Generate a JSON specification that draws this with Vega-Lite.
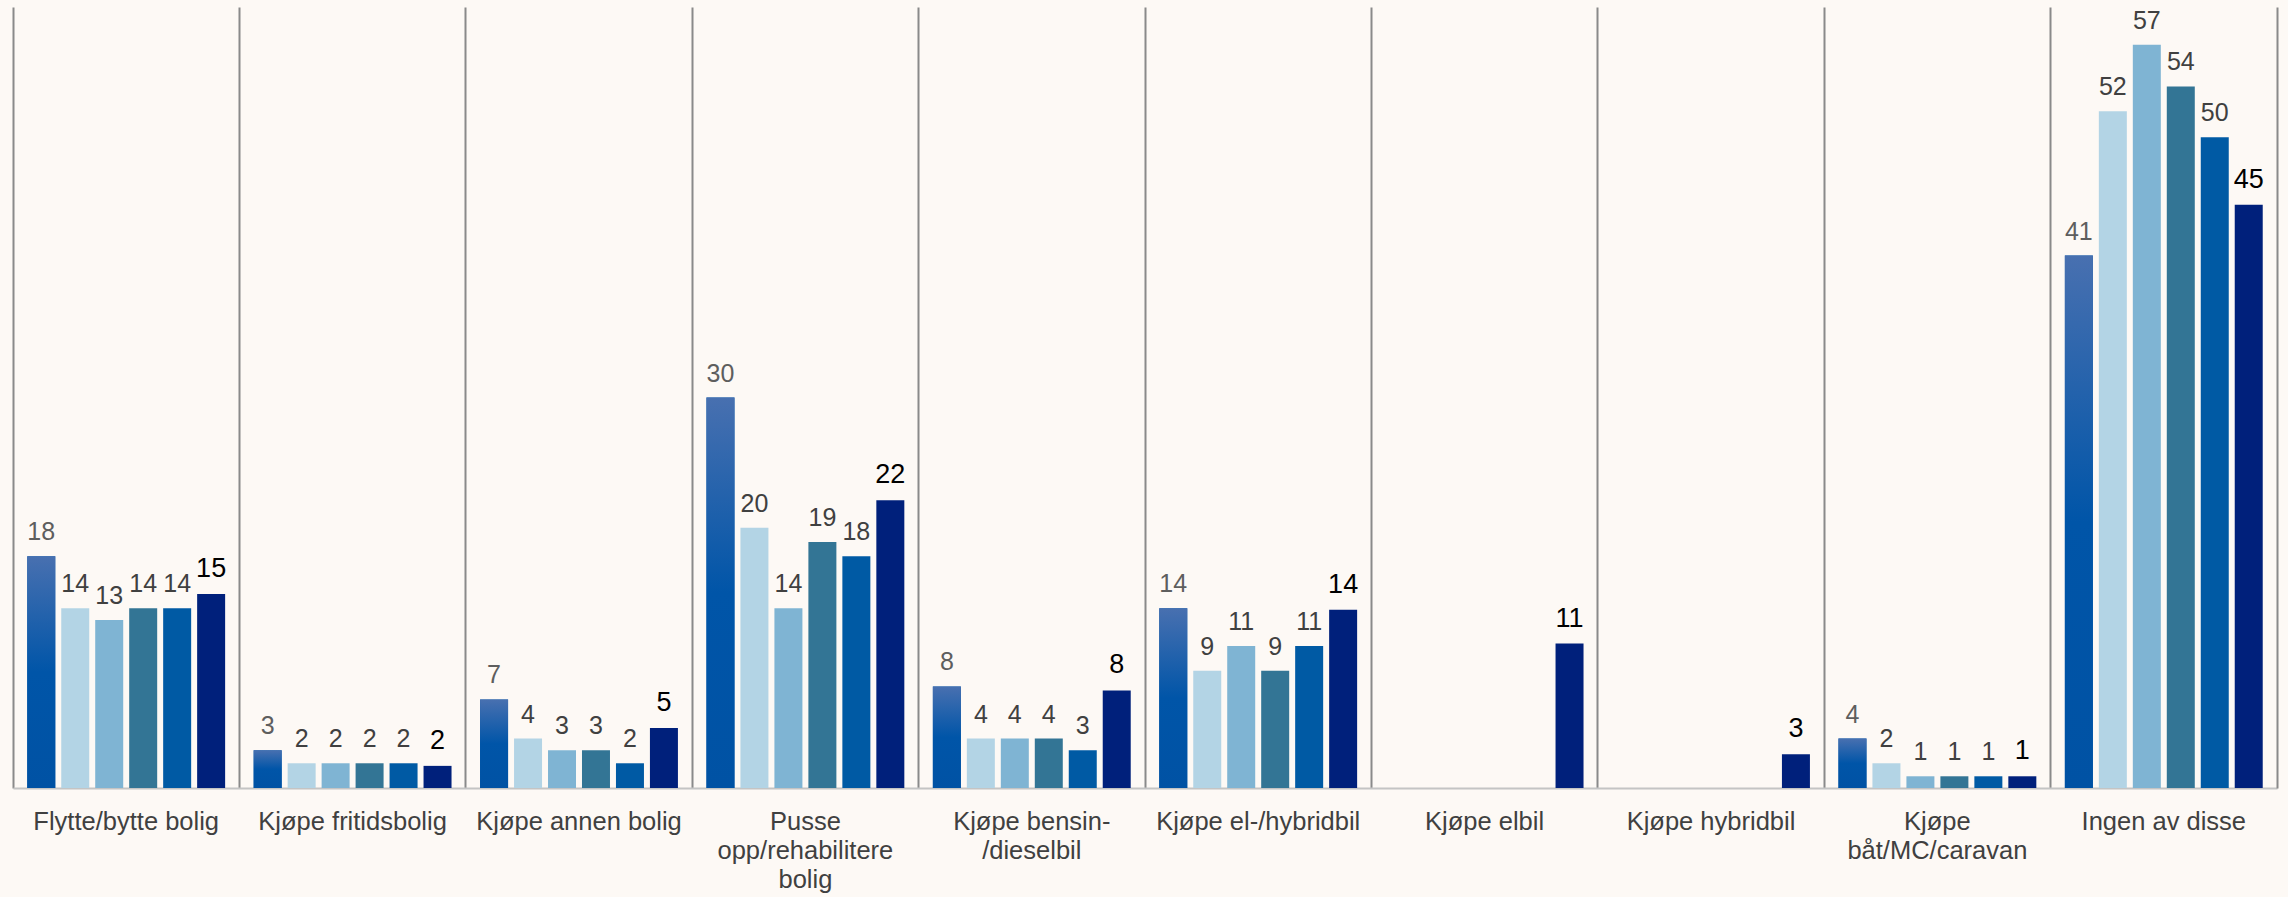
{
  "$schema": "https://vega.github.io/schema/vega-lite/v6.json",
  "width": 2264,
  "height": 781,
  "autosize": {"type": "none"},
  "padding": {"left": 13, "top": 7, "right": 11, "bottom": 109},
  "background": "#fdf9f5",
  "config": {
    "view": {"stroke": null},
    "font": "Liberation Sans"
  },
  "data": {
    "values": [
      {"kategori": "Flytte/bytte bolig", "serie": "Serie 1", "verdi": 17.8},
      {"kategori": "Flytte/bytte bolig", "serie": "Serie 2", "verdi": 13.8},
      {"kategori": "Flytte/bytte bolig", "serie": "Serie 3", "verdi": 12.9},
      {"kategori": "Flytte/bytte bolig", "serie": "Serie 4", "verdi": 13.8},
      {"kategori": "Flytte/bytte bolig", "serie": "Serie 5", "verdi": 13.8},
      {"kategori": "Flytte/bytte bolig", "serie": "Serie 6", "verdi": 14.9},
      {"kategori": "Kjøpe fritidsbolig", "serie": "Serie 1", "verdi": 2.9},
      {"kategori": "Kjøpe fritidsbolig", "serie": "Serie 2", "verdi": 1.9},
      {"kategori": "Kjøpe fritidsbolig", "serie": "Serie 3", "verdi": 1.9},
      {"kategori": "Kjøpe fritidsbolig", "serie": "Serie 4", "verdi": 1.9},
      {"kategori": "Kjøpe fritidsbolig", "serie": "Serie 5", "verdi": 1.9},
      {"kategori": "Kjøpe fritidsbolig", "serie": "Serie 6", "verdi": 1.7},
      {"kategori": "Kjøpe annen bolig", "serie": "Serie 1", "verdi": 6.8},
      {"kategori": "Kjøpe annen bolig", "serie": "Serie 2", "verdi": 3.8},
      {"kategori": "Kjøpe annen bolig", "serie": "Serie 3", "verdi": 2.9},
      {"kategori": "Kjøpe annen bolig", "serie": "Serie 4", "verdi": 2.9},
      {"kategori": "Kjøpe annen bolig", "serie": "Serie 5", "verdi": 1.9},
      {"kategori": "Kjøpe annen bolig", "serie": "Serie 6", "verdi": 4.6},
      {"kategori": "Pusse opp/rehabilitere bolig", "serie": "Serie 1", "verdi": 30.0},
      {"kategori": "Pusse opp/rehabilitere bolig", "serie": "Serie 2", "verdi": 20.0},
      {"kategori": "Pusse opp/rehabilitere bolig", "serie": "Serie 3", "verdi": 13.8},
      {"kategori": "Pusse opp/rehabilitere bolig", "serie": "Serie 4", "verdi": 18.9},
      {"kategori": "Pusse opp/rehabilitere bolig", "serie": "Serie 5", "verdi": 17.8},
      {"kategori": "Pusse opp/rehabilitere bolig", "serie": "Serie 6", "verdi": 22.1},
      {"kategori": "Kjøpe bensin-/dieselbil", "serie": "Serie 1", "verdi": 7.8},
      {"kategori": "Kjøpe bensin-/dieselbil", "serie": "Serie 2", "verdi": 3.8},
      {"kategori": "Kjøpe bensin-/dieselbil", "serie": "Serie 3", "verdi": 3.8},
      {"kategori": "Kjøpe bensin-/dieselbil", "serie": "Serie 4", "verdi": 3.8},
      {"kategori": "Kjøpe bensin-/dieselbil", "serie": "Serie 5", "verdi": 2.9},
      {"kategori": "Kjøpe bensin-/dieselbil", "serie": "Serie 6", "verdi": 7.5},
      {"kategori": "Kjøpe el-/hybridbil", "serie": "Serie 1", "verdi": 13.8},
      {"kategori": "Kjøpe el-/hybridbil", "serie": "Serie 2", "verdi": 9.0},
      {"kategori": "Kjøpe el-/hybridbil", "serie": "Serie 3", "verdi": 10.9},
      {"kategori": "Kjøpe el-/hybridbil", "serie": "Serie 4", "verdi": 9.0},
      {"kategori": "Kjøpe el-/hybridbil", "serie": "Serie 5", "verdi": 10.9},
      {"kategori": "Kjøpe el-/hybridbil", "serie": "Serie 6", "verdi": 13.7},
      {"kategori": "Kjøpe elbil", "serie": "Serie 6", "verdi": 11.1},
      {"kategori": "Kjøpe hybridbil", "serie": "Serie 6", "verdi": 2.6},
      {"kategori": "Kjøpe båt/MC/caravan", "serie": "Serie 1", "verdi": 3.8},
      {"kategori": "Kjøpe båt/MC/caravan", "serie": "Serie 2", "verdi": 1.9},
      {"kategori": "Kjøpe båt/MC/caravan", "serie": "Serie 3", "verdi": 0.9},
      {"kategori": "Kjøpe båt/MC/caravan", "serie": "Serie 4", "verdi": 0.9},
      {"kategori": "Kjøpe båt/MC/caravan", "serie": "Serie 5", "verdi": 0.9},
      {"kategori": "Kjøpe båt/MC/caravan", "serie": "Serie 6", "verdi": 0.9},
      {"kategori": "Ingen av disse", "serie": "Serie 1", "verdi": 40.9},
      {"kategori": "Ingen av disse", "serie": "Serie 2", "verdi": 52.0},
      {"kategori": "Ingen av disse", "serie": "Serie 3", "verdi": 57.1},
      {"kategori": "Ingen av disse", "serie": "Serie 4", "verdi": 53.9},
      {"kategori": "Ingen av disse", "serie": "Serie 5", "verdi": 50.0},
      {"kategori": "Ingen av disse", "serie": "Serie 6", "verdi": 44.8}
    ]
  },
  "encoding": {
    "x": {
      "field": "kategori",
      "type": "nominal",
      "sort": null,
      "scale": {"paddingInner": 0, "paddingOuter": 0},
      "axis": {
        "title": null,
        "ticks": false,
        "domain": true,
        "domainColor": "#c4c4c4",
        "domainWidth": 2,
        "grid": true,
        "gridColor": "#8a8a8a",
        "gridWidth": 2,
        "bandPosition": 0,
        "labelAngle": 0,
        "labelFont": "Liberation Sans",
        "labelFontSize": 25.5,
        "labelColor": "#404040",
        "labelPadding": 21,
        "labelLimit": 400,
        "labelLineHeight": 29,
        "labelBaseline": "top",
        "labelExpr": "datum.label == 'Pusse opp/rehabilitere bolig' ? ['Pusse', 'opp/rehabilitere', 'bolig'] : datum.label == 'Kjøpe bensin-/dieselbil' ? ['Kjøpe bensin-', '/dieselbil'] : datum.label == 'Kjøpe båt/MC/caravan' ? ['Kjøpe', 'båt/MC/caravan'] : datum.label"
      }
    },
    "xOffset": {
      "field": "serie",
      "type": "nominal",
      "scale": {
        "domain": ["Serie 1", "Serie 2", "Serie 3", "Serie 4", "Serie 5", "Serie 6"],
        "paddingInner": 0.176,
        "paddingOuter": 0.42
      }
    },
    "y": {
      "field": "verdi",
      "type": "quantitative",
      "scale": {"domain": [0, 60], "nice": false},
      "axis": {
        "orient": "right",
        "title": null,
        "labels": false,
        "ticks": false,
        "grid": false,
        "domain": true,
        "domainColor": "#8a8a8a",
        "domainWidth": 2
      }
    }
  },
  "layer": [
    {
      "mark": {"type": "bar"},
      "encoding": {
        "color": {
          "field": "serie",
          "type": "nominal",
          "legend": null,
          "scale": {
            "domain": ["Serie 1", "Serie 2", "Serie 3", "Serie 4", "Serie 5", "Serie 6"],
            "range": ["#0054a6", "#b3d4e5", "#7fb4d3", "#337595", "#005aa4", "#00207b"]
          }
        }
      }
    },
    {
      "transform": [{"filter": "datum.serie == 'Serie 1'"}],
      "mark": {
        "type": "bar",
        "color": {
          "gradient": "linear",
          "x1": 0, "y1": 0, "x2": 0, "y2": 1,
          "stops": [
            {"offset": 0, "color": "#4870b0"},
            {"offset": 0.5, "color": "#0055a8"},
            {"offset": 1, "color": "#0052a4"}
          ]
        }
      },
      "encoding": {}
    },
    {
      "mark": {"type": "text", "baseline": "bottom", "dy": -11, "font": "Liberation Sans"},
      "encoding": {
        "text": {"field": "verdi", "type": "quantitative", "format": ".0f"},
        "color": {
          "condition": [
            {"test": "datum.serie == 'Serie 1'", "value": "#5e5e5e"},
            {"test": "datum.serie == 'Serie 6'", "value": "#000000"}
          ],
          "value": "#404040"
        },
        "size": {
          "condition": {"test": "datum.serie == 'Serie 6'", "value": 27},
          "value": 25
        }
      }
    }
  ]
}
